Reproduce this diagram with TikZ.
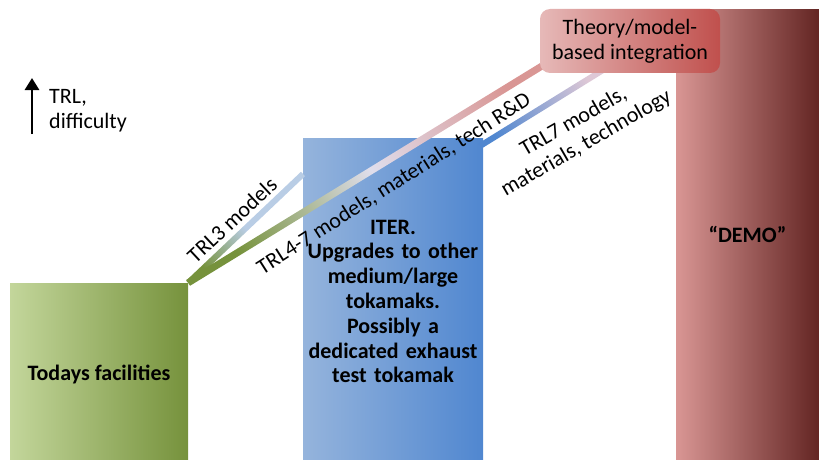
\documentclass[tikz,border=0pt]{standalone}
\usepackage{fontspec}
\setmainfont{Carlito}
\usetikzlibrary{calc,arrows.meta}

\definecolor{todaylight}{RGB}{195,214,155}
\definecolor{todaydark}{RGB}{118,146,60}
\definecolor{iterlight}{RGB}{149,180,220}
\definecolor{iterdark}{RGB}{80,135,208}
\definecolor{demolight}{RGB}{217,150,148}
\definecolor{demodark}{RGB}{99,37,35}
\definecolor{theorylight}{RGB}{230,185,184}
\definecolor{theorydark}{RGB}{192,80,77}
\definecolor{trlthree}{RGB}{185,205,229}
\definecolor{trlmid}{RGB}{224,222,236}
\definecolor{trlseven}{RGB}{222,200,214}

\begin{document}
\begin{tikzpicture}[x=1pt, y=1pt,
	every node/.style={font=\fontsize{22}{25}\selectfont, text=black},
	stage/.style={inner sep=0pt, align=center, font=\fontsize{22}{24.8}\selectfont\bfseries}]
	\useasboundingbox (0,0) rectangle (819,459);

	% 三个阶段的方框
	\node[stage, left color=todaylight, right color=todaydark,
		minimum width=178pt, minimum height=182pt] (today) at (99,85) {Todays facilities};
	\node[stage, left color=iterlight, right color=iterdark,
		minimum width=180pt, minimum height=327pt, text width=172pt] (iter) at (393,157.5)
		{ITER.\\Upgrades to other\\medium/large\\tokamaks.\\Possibly a\\dedicated exhaust\\test tokamak};
	\node[stage, left color=demolight, right color=demodark,
		minimum width=143pt, minimum height=449pt] (demo) at (747.5,224.5) {“DEMO”};

	% 连线的端点
	\coordinate (trlthreeend) at (303,285);
	\coordinate (trlfourend) at (555,401);
	\coordinate (trlsevenstart) at (480,313);
	\coordinate (trlsevenend) at (603,389);

	% 渐变连线
	\shade[bottom color=todaydark, top color=trlthree, middle color=trlthree, shading angle=-47]
		($(today.north east)!3pt!-90:(trlthreeend)$) -- ($(trlthreeend)!3pt!90:(today.north east)$)
		-- ($(trlthreeend)!3pt!-90:(today.north east)$) -- ($(today.north east)!3pt!90:(trlthreeend)$) -- cycle;
	\shade[bottom color=todaydark, top color=demolight, middle color=trlmid, shading angle=-58]
		($(today.north east)!3.5pt!-90:(trlfourend)$) -- ($(trlfourend)!3.5pt!90:(today.north east)$)
		-- ($(trlfourend)!3.5pt!-90:(today.north east)$) -- ($(today.north east)!3.5pt!90:(trlfourend)$) -- cycle;
	\shade[bottom color=iterdark, top color=trlseven, shading angle=-58]
		($(trlsevenstart)!3pt!-90:(trlsevenend)$) -- ($(trlsevenend)!3pt!90:(trlsevenstart)$)
		-- ($(trlsevenend)!3pt!-90:(trlsevenstart)$) -- ($(trlsevenstart)!3pt!90:(trlsevenend)$) -- cycle;

	% 理论/模型框
	\node[inner sep=0pt, align=center, rounded corners=10pt, left color=theorylight, right color=theorydark,
		minimum width=180pt, minimum height=64pt] (theory) at (630,418) {Theory/model-\\based integration};

	% 斜向标注
	\node[rotate=43] (trlthreelabel) at (232,239) {TRL3 models};
	\node[rotate=32.5] (trlfourlabel) at (394,275) {TRL4-7 models, materials, tech R\&D};
	\node[rotate=30, align=center] (trlsevenlabel) at (580,326) {TRL7 models,\\materials, technology};

	% 左上角箭头
	\coordinate (arrowfoot) at (32,325);
	\coordinate (arrowtip) at (32,381);
	\draw[line width=2.8pt, -{Triangle[width=14pt,length=12pt]}] (arrowfoot) -- (arrowtip);
	\node[anchor=west, align=left, inner sep=0pt] (trllabel) at (49,348) {TRL,\\difficulty};
\end{tikzpicture}
\end{document}
